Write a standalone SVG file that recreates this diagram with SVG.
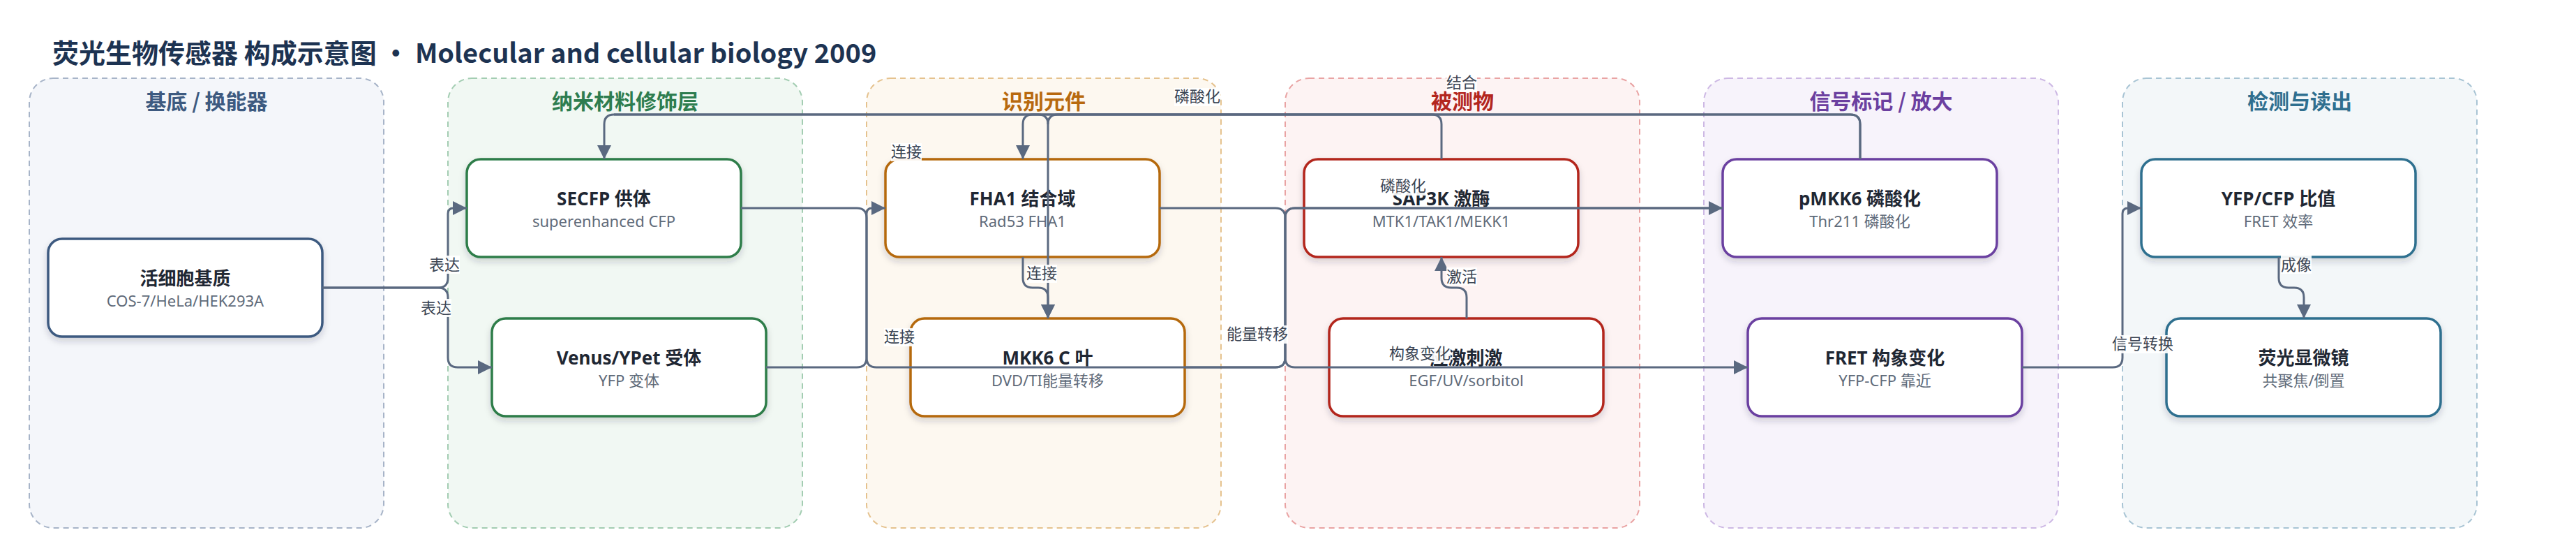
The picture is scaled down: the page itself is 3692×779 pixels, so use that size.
<svg xmlns="http://www.w3.org/2000/svg" width="3692" height="779" viewBox="0 0 3692 779">
<defs>
<style>
.ctr{stroke-width:2;stroke-dasharray:8 6}
.ct{font-family:"Noto Sans CJK SC","Noto Sans",sans-serif;font-weight:700;font-size:30px;text-anchor:middle}
.nd{fill:#fff;stroke-width:3.5;filter:url(#sh)}
.nt{font-family:"Noto Sans","Noto Sans CJK SC",sans-serif;font-weight:700;font-size:26px;fill:#1f2733;text-anchor:middle}
.ns{font-family:"Noto Sans","Noto Sans CJK SC",sans-serif;font-size:22px;fill:#5f6b7a;text-anchor:middle}
.e{fill:none;stroke:#5a6980;stroke-width:3}
.ea{fill:none;stroke:#5a6980;stroke-width:3;marker-end:url(#ar)}
.lb{fill:#fff;fill-opacity:0.92}
.lt{font-family:"Noto Sans CJK SC","Noto Sans",sans-serif;font-size:22px;fill:#3b4554;text-anchor:middle}
</style>
<filter id="sh" x="-10%" y="-20%" width="120%" height="150%">
<feDropShadow dx="0" dy="5" stdDeviation="5" flood-color="#1f2937" flood-opacity="0.18"/>
</filter>
<marker id="ar" markerUnits="userSpaceOnUse" markerWidth="20" markerHeight="20" viewBox="0 0 10 10" refX="10" refY="5" orient="auto">
<path d="M0,0 L10,5 L0,10 z" fill="#5a6980"/>
</marker>
</defs>
<rect width="3692" height="779" fill="#fff"/>
<text x="75" y="90" font-family="Noto Sans CJK SC, Noto Sans, sans-serif" font-weight="700" font-size="38" fill="#1d3352">荧光生物传感器 构成示意图 · Molecular and cellular biology 2009</text>

<g id="containers">
<g id="c1"><rect class="ctr" x="42" y="112" width="508" height="644" rx="34" fill="#f4f6fa" stroke="#a7b4c8"/><text class="ct" x="296" y="156" fill="#3d5a80">基底 / 换能器</text></g>
<g id="c2"><rect class="ctr" x="642" y="112" width="508" height="644" rx="34" fill="#f1f8f3" stroke="#a3cdb2"/><text class="ct" x="896" y="156" fill="#2e7d4f">纳米材料修饰层</text></g>
<g id="c3"><rect class="ctr" x="1242" y="112" width="508" height="644" rx="34" fill="#fdf8f0" stroke="#e5c28e"/><text class="ct" x="1496" y="156" fill="#b8690e">识别元件</text></g>
<g id="c4"><rect class="ctr" x="1842" y="112" width="508" height="644" rx="34" fill="#fdf3f3" stroke="#e9a3a3"/><text class="ct" x="2096" y="156" fill="#b3261e">被测物</text></g>
<g id="c5"><rect class="ctr" x="2442" y="112" width="508" height="644" rx="34" fill="#f7f3fb" stroke="#cdb8e4"/><text class="ct" x="2696" y="156" fill="#6b3fa0">信号标记 / 放大</text></g>
<g id="c6"><rect class="ctr" x="3042" y="112" width="508" height="644" rx="34" fill="#f3f7f9" stroke="#a8c4d4"/><text class="ct" x="3296" y="156" fill="#2f6f8f">检测与读出</text></g>
</g>

<g id="n1"><rect class="nd" x="69" y="342" width="393" height="140" rx="20" stroke="#3d5a80"/><text class="nt" x="265.5" y="408">活细胞基质</text><text class="ns" x="265.5" y="439">COS-7/HeLa/HEK293A</text></g>
<g id="n_secfp"><rect class="nd" x="669" y="228" width="393" height="140" rx="20" stroke="#2e7d4a"/><text class="nt" x="865.5" y="294">SECFP 供体</text><text class="ns" x="865.5" y="325">superenhanced CFP</text></g>
<g id="n_venus"><rect class="nd" x="705" y="456" width="393" height="140" rx="20" stroke="#2e7d4a"/><text class="nt" x="901.5" y="522">Venus/YPet 受体</text><text class="ns" x="901.5" y="553">YFP 变体</text></g>
<g id="n_fha1"><rect class="nd" x="1269" y="228" width="393" height="140" rx="20" stroke="#b5690a"/><text class="nt" x="1465.5" y="294">FHA1 结合域</text><text class="ns" x="1465.5" y="325">Rad53 FHA1</text></g>
<g id="n_mkk6"><rect class="nd" x="1305" y="456" width="393" height="140" rx="20" stroke="#b5690a"/><text class="nt" x="1501.5" y="522">MKK6 C 叶</text><text class="ns" x="1501.5" y="553">DVD/TI能量转移</text></g>
<g id="n_sap3k"><rect class="nd" x="1869" y="228" width="393" height="140" rx="20" stroke="#b3261e"/><text class="nt" x="2065.5" y="294">SAP3K 激酶</text><text class="ns" x="2065.5" y="325">MTK1/TAK1/MEKK1</text></g>
<g id="n_stim"><rect class="nd" x="1905" y="456" width="393" height="140" rx="20" stroke="#b3261e"/><text class="nt" x="2101.5" y="522">应激刺激</text><text class="ns" x="2101.5" y="553">EGF/UV/sorbitol</text></g>
<g id="n_pmkk6"><rect class="nd" x="2469" y="228" width="393" height="140" rx="20" stroke="#6b3fa0"/><text class="nt" x="2665.5" y="294">pMKK6 磷酸化</text><text class="ns" x="2665.5" y="325">Thr211 磷酸化</text></g>
<g id="n_fret"><rect class="nd" x="2505" y="456" width="393" height="140" rx="20" stroke="#6b3fa0"/><text class="nt" x="2701.5" y="522">FRET 构象变化</text><text class="ns" x="2701.5" y="553">YFP-CFP 靠近</text></g>
<g id="n_ratio"><rect class="nd" x="3069" y="228" width="393" height="140" rx="20" stroke="#2f6f8f"/><text class="nt" x="3265.5" y="294">YFP/CFP 比值</text><text class="ns" x="3265.5" y="325">FRET 效率</text></g>
<g id="n_micro"><rect class="nd" x="3105" y="456" width="393" height="140" rx="20" stroke="#2f6f8f"/><text class="nt" x="3301.5" y="522">荧光显微镜</text><text class="ns" x="3301.5" y="553">共聚焦/倒置</text></g>

<g id="connectors">
<path class="ea" d="M462,412 H628 Q642,412 642,398 V306 Q642,298 650,298 H669"/>
<path class="ea" d="M462,412 H628 Q642,412 642,426 V512 Q642,526 656,526 H705"/>
<path class="e" d="M1062,298 H1228 Q1242,298 1242,312 V512 Q1242,526 1256,526 H1828 Q1842,526 1842,512 V312 Q1842,298 1856,298 H2469"/>
<path class="ea" d="M1098,526 H1228 Q1242,526 1242,512 V306 Q1242,298 1250,298 H1269"/>
<path class="ea" d="M1662,298 H1828 Q1842,298 1842,312 V512 Q1842,526 1856,526 H2505"/>
<path class="ea" d="M1698,526 H1828 Q1842,526 1842,512 V312 Q1842,298 1856,298 H2469"/>
<path class="ea" d="M2666,228 V178 Q2666,164 2652,164 H880 Q866,164 866,178 V228"/>
<path class="ea" d="M2066,228 V178 Q2066,164 2052,164 H1516 Q1502,164 1502,178 V456"/>
<path class="ea" d="M2666,228 V178 Q2666,164 2652,164 H1480 Q1466,164 1466,178 V228"/>
<path class="e" d="M880,164 H1488 Q1502,164 1502,178"/>
<path class="ea" d="M1466,368 V398 Q1466,412 1480,412 H1488 Q1502,412 1502,426 V456"/>
<path class="ea" d="M2102,456 V426 Q2102,412 2088,412 H2080 Q2066,412 2066,398 V368"/>
<path class="ea" d="M2898,526 H3028 Q3042,526 3042,512 V306 Q3042,298 3050,298 H3069"/>
<path class="ea" d="M3266,368 V398 Q3266,412 3280,412 H3288 Q3302,412 3302,426 V456"/>
</g>

<g id="labels">
<rect class="lb" x="615" y="366" width="44" height="26"/><text class="lt" x="637" y="387">表达</text>
<rect class="lb" x="603" y="428" width="44" height="26"/><text class="lt" x="625" y="449">表达</text>
<rect class="lb" x="1277" y="205" width="44" height="26"/><text class="lt" x="1299" y="225">连接</text>
<rect class="lb" x="1267" y="470" width="44" height="26"/><text class="lt" x="1289" y="490">连接</text>
<rect class="lb" x="1471" y="379" width="44" height="26"/><text class="lt" x="1493" y="399">连接</text>
<rect class="lb" x="1683" y="126" width="66" height="26"/><text class="lt" x="1716" y="146">磷酸化</text>
<rect class="lb" x="1758" y="466" width="88" height="26"/><text class="lt" x="1802" y="486">能量转移</text>
<rect class="lb" x="2073" y="106" width="44" height="26"/><text class="lt" x="2095" y="126">结合</text>
<rect class="lb" x="1978" y="254" width="66" height="26"/><text class="lt" x="2011" y="274">磷酸化</text>
<rect class="lb" x="2073" y="383" width="44" height="26"/><text class="lt" x="2095" y="404">激活</text>
<rect class="lb" x="1991" y="493" width="88" height="26"/><text class="lt" x="2035" y="514">构象变化</text>
<rect class="lb" x="3027" y="480" width="88" height="26"/><text class="lt" x="3071" y="500">信号转换</text>
<rect class="lb" x="3269" y="366" width="44" height="26"/><text class="lt" x="3291" y="387">成像</text>
</g>
</svg>
